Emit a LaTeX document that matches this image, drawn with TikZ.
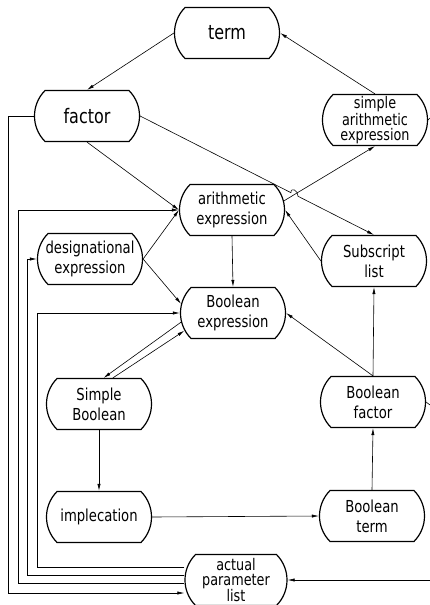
\documentclass[tikz,border=0pt]{standalone}
\usepackage{fontspec}
\setmainfont{DejaVu Sans}[FakeStretch=0.8]
\usetikzlibrary{shapes.misc,arrows.meta,calc,intersections}

\begin{document}
\begin{tikzpicture}[
  x=1pt,
  y=-1pt,
  syntax box/.style={
    draw,
    line width=1.2pt,
    rounded rectangle,
    rounded rectangle arc length=90,
    minimum width=105pt,
    minimum height=51pt,
    inner sep=0pt,
    align=center,
    font=\fontsize{16.5}{20}\selectfont
  },
  big label/.style={font=\fontsize{20}{24}\selectfont},
  tight label/.style={font=\fontsize{16}{15}\selectfont},
  link/.style={line width=0.6pt, -{Latex[length=7pt,width=3.2pt]}},
  stub/.style={line width=0.6pt}
]
  \useasboundingbox (0,0) rectangle (430,605);

  % syntax units
  \node[syntax box, big label] (term)   at (227,33)  {term};
  \node[syntax box, big label] (factor) at (87,116)  {factor};
  \node[syntax box, tight label] (sae)  at (375,120) {simple\\arithmetic\\expression};
  \node[syntax box] (ae)     at (232,210) {arithmetic\\expression};
  \node[syntax box] (de)     at (90,259)  {designational\\expression};
  \node[syntax box] (sl)     at (374,261) {Subscript\\list};
  \node[syntax box] (be)     at (233,313) {Boolean\\expression};
  \node[syntax box] (sb)     at (99,404)  {Simple\\Boolean};
  \node[syntax box] (bf)     at (373,402) {Boolean\\factor};
  \node[syntax box] (impl)   at (99,517)  {implecation};
  \node[syntax box] (bt)     at (372,516) {Boolean\\term};
  \node[syntax box, tight label, minimum width=102pt] (apl) at (236,580) {actual\\parameter\\list};

  % loose ends at the right margin
  \coordinate (sae edge) at (430,118);
  \coordinate (bf edge)  at (430,405);
  \coordinate (apl edge) at (430,580);

  % direct links
  \draw[link] (term.west) -- (factor.north);
  \draw[link] (sae.north) -- (term.east);
  \draw[link] (factor.south) -- (ae.west);
  \draw[link, name path=up] (ae.10) -- (sae.south);
  \path[name path=across] (factor.east) -- (sl.north);
  \path[name intersections={of=up and across, by=hop}];
  \draw[link] (factor.east) -- ($(hop)!4pt!(factor.east)$)
    .. controls +(0,-6) and +(0,-6) .. ($(hop)!4pt!(sl.north)$) -- (sl.north);
  \draw[link] (ae.south) -- (be.north);
  \draw[link] (sl.west) -- (ae.east);
  \draw[link] (de.east) -- (ae.west);
  \draw[link] (de.east) -- (be.170);
  \draw[link] (bf.north) -- (be.east);
  \draw[link] (bf.north) -- (sl.south);
  \draw[link] (be.190) -- (sb.80);
  \draw[link] (sb.62) -- (be.200);
  \draw[link] (sb.south) -- (impl.north);
  \draw[link] (impl.east) -- (bt.west);
  \draw[link] (bt.north) -- (bf.south);

  % routed links on the left
  \draw[link] (factor.west) -- ++(-26,0) |- ([yshift=-13pt]apl.west);
  \draw[link] ([yshift=-3pt]apl.west) -- ++(-166,0) |- (ae.west);
  \draw[link] ([yshift=5pt]apl.west) -- ++(-157,0) |- (de.west);
  \draw[link] ([yshift=13pt]apl.west) -- ++(-147,0) |- (be.west);

  % links leaving on the right
  \draw[stub] (sae.east) -- (sae edge);
  \draw[stub] (bf.east) -- (bf edge);
  \draw[link] (apl edge) -- (apl.east);
\end{tikzpicture}
\end{document}
